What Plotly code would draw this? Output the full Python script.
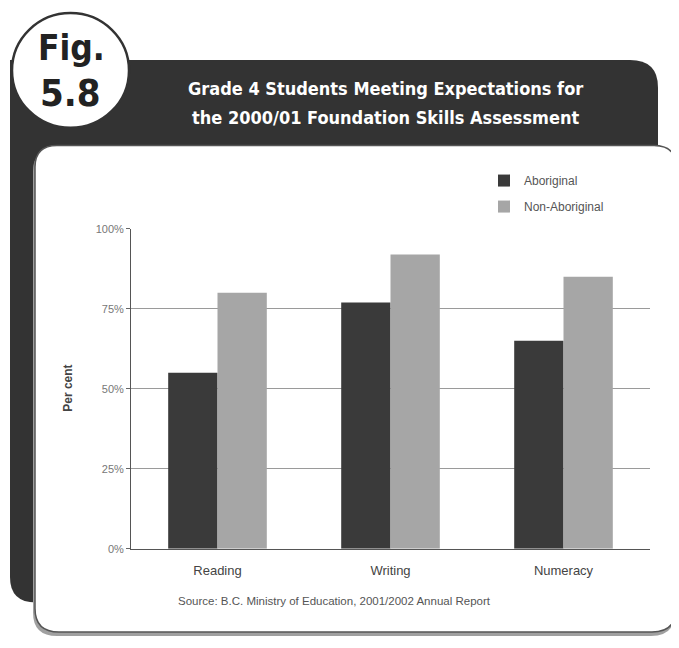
import plotly.graph_objects as go

categories = ["Reading", "Writing", "Numeracy"]
aboriginal = [55, 77, 65]
non_aboriginal = [80, 92, 85]
series_names = ["Aboriginal", "Non-Aboriginal"]
y_ticks = [0, 25, 50, 75, 100]
y_tick_labels = ["0%", "25%", "50%", "75%", "100%"]
title_lines = ["Grade 4 Students Meeting Expectations for",
               "the 2000/01 Foundation Skills Assessment"]
source_text = "Source: B.C. Ministry of Education, 2001/2002 Annual Report"

# page body has an 8px default margin; the figure is sized so the page does not scroll
OFF = 8
W, H = 671, 632

COND = "Noto Sans ExtraCondensed, DejaVu Sans Condensed, DejaVu Sans, sans-serif"
SANS = "Liberation Sans, Arial, sans-serif"


def X(x):
    return (x - OFF) / W


def Y(y):
    return 1 - (y - OFF) / H


def rrect(x0, y0, x1, y1, rtl, rtr, rbr, rbl):
    p = []
    p.append(f"M {X(x0 + rtl)},{Y(y0)}")
    p.append(f"L {X(x1 - rtr)},{Y(y0)}")
    p.append(f"Q {X(x1)},{Y(y0)} {X(x1)},{Y(y0 + rtr)}")
    p.append(f"L {X(x1)},{Y(y1 - rbr)}")
    p.append(f"Q {X(x1)},{Y(y1)} {X(x1 - rbr)},{Y(y1)}")
    p.append(f"L {X(x0 + rbl)},{Y(y1)}")
    p.append(f"Q {X(x0)},{Y(y1)} {X(x0)},{Y(y1 - rbl)}")
    p.append(f"L {X(x0)},{Y(y0 + rtl)}")
    p.append(f"Q {X(x0)},{Y(y0)} {X(x0 + rtl)},{Y(y0)}")
    p.append("Z")
    return " ".join(p)


DARK = "#333333"
LIGHT = "#a6a6a6"

fig = go.Figure()
fig.add_trace(go.Bar(x=categories, y=aboriginal, name=series_names[0],
                     legendgroup="a",
                     marker=dict(color="#3a3a3a", line=dict(width=0))))
fig.add_trace(go.Bar(x=categories, y=non_aboriginal, name=series_names[1],
                     legendgroup="b",
                     marker=dict(color=LIGHT, line=dict(width=0))))

shapes = [
    dict(type="path", path=rrect(10, 55, 658, 608, 0, 28, 0, 26),
         xref="paper", yref="paper", fillcolor=DARK, line=dict(width=0), layer="below"),
    dict(type="path", path=rrect(33, 146, 675, 642, 22, 22, 24, 24),
         xref="paper", yref="paper", fillcolor="#a0a0a0", line=dict(width=0), layer="below"),
    dict(type="path", path=rrect(35, 142, 676, 638, 22, 22, 24, 24),
         xref="paper", yref="paper", fillcolor="white",
         line=dict(width=1.5, color="#555555"), layer="below"),
    dict(type="circle", xref="paper", yref="paper",
         x0=X(12), x1=X(129), y0=Y(124), y1=Y(7),
         fillcolor="white", line=dict(width=2.5, color=DARK), layer="below"),
]

annotations = [
    dict(text="<b>" + title_lines[0] + "</b>", x=X(386), y=Y(84), xref="paper", yref="paper",
         showarrow=False, xanchor="center", yanchor="middle",
         font=dict(family=COND, size=18, color="white")),
    dict(text="<b>" + title_lines[1] + "</b>", x=X(386), y=Y(114), xref="paper", yref="paper",
         showarrow=False, xanchor="center", yanchor="middle",
         font=dict(family=COND, size=18, color="white")),
    dict(text="<b>Fig.</b>", x=X(71), y=Y(43), xref="paper", yref="paper",
         showarrow=False, xanchor="center", yanchor="middle",
         font=dict(family=COND, size=35, color="#222222")),
    dict(text="<b>5.8</b>", x=X(70), y=Y(89), xref="paper", yref="paper",
         showarrow=False, xanchor="center", yanchor="middle",
         font=dict(family=COND, size=38, color="#222222")),
    dict(text="<b>Per cent</b>", x=X(68), y=Y(390), xref="paper", yref="paper",
         showarrow=False, xanchor="center", yanchor="middle", textangle=-90,
         font=dict(family=SANS, size=12, color="#444444")),
    dict(text=source_text, x=X(334), y=Y(606), xref="paper", yref="paper",
         showarrow=False, xanchor="center", yanchor="middle",
         font=dict(family=SANS, size=11.5, color="#555555")),
]

fig.update_layout(
    width=W, height=H,
    margin=dict(l=0, r=0, t=0, b=0),
    paper_bgcolor="white",
    plot_bgcolor="rgba(0,0,0,0)",
    barmode="group",
    bargap=0.43,
    bargroupgap=0,
    shapes=shapes,
    annotations=annotations,
    showlegend=True,
    legend=dict(x=X(484), y=Y(163), xanchor="left", yanchor="top",
                bgcolor="rgba(0,0,0,0)", traceorder="grouped", tracegroupgap=7,
                font=dict(family=SANS, size=12, color="#555555"),
                itemclick=False),
    xaxis=dict(domain=[X(131), X(650)], range=[-0.5, 2.5],
               showline=True, linecolor="#555555", linewidth=1,
               showgrid=False, ticks="", ticklabelstandoff=10,
               tickfont=dict(family=SANS, size=13, color="#444444")),
    yaxis=dict(domain=[Y(553), Y(227)], range=[0, 100],
               tickvals=y_ticks, ticktext=y_tick_labels,
               showline=True, linecolor="#555555", linewidth=1,
               showgrid=True, gridcolor="#9a9a9a", gridwidth=1,
               ticks="outside", ticklen=4, tickcolor="#666666",
               zeroline=False,
               tickfont=dict(family=SANS, size=11, color="#777777")),
    font=dict(family=SANS),
)

fig.write_html("out.html")
